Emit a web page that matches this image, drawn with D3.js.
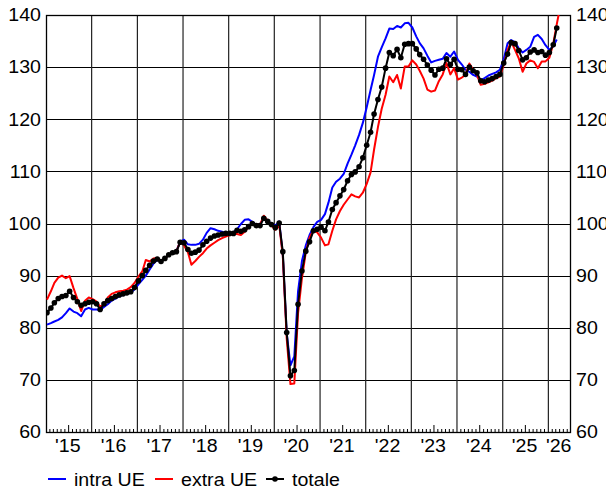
<!DOCTYPE html>
<html><head><meta charset="utf-8">
<script src="https://cdn.jsdelivr.net/npm/d3@7"></script>
<style>
body{margin:0;background:#fff}
svg{display:block}
text{font-family:"Liberation Sans",Arial,sans-serif;fill:#000}
</style>
</head><body>
<svg id="chart" width="606" height="494"></svg>
<script>
// monthly series, January 2015 onward
const intraUE = [
80.6,80.9,81.2,81.5,82.0,82.8,83.7,83.1,82.8,82.2,83.5,83.8,
83.5,83.5,83.4,84.0,84.5,85.2,85.6,86.0,86.3,86.5,86.7,87.4,
88.3,89.2,90.0,91.2,92.3,93.0,92.8,93.3,94.0,94.4,94.7,96.5,
96.9,96.0,95.9,95.9,96.1,96.9,98.2,99.1,98.9,98.6,98.4,98.2,
98.1,98.3,98.9,99.9,100.7,100.8,100.3,99.8,99.9,101.0,100.6,99.9,
99.6,100.4,94.0,79.0,72.8,74.5,87.0,92.8,95.8,97.8,99.3,100.3,
100.7,101.8,104.0,106.9,108.0,108.6,109.5,111.5,113.2,115.0,117.0,119.3,
122.3,125.6,128.5,132.0,133.8,135.5,137.4,137.3,137.9,137.6,138.4,138.5,
137.6,135.9,134.6,133.6,132.2,130.9,131.2,131.4,131.6,132.7,132.0,133.0,
131.4,130.5,129.5,129.1,128.5,128.2,127.5,127.9,128.4,128.7,129.0,129.5,
131.5,134.6,135.2,134.8,133.6,132.8,133.3,133.9,135.8,136.2,135.4,134.2,
133.3,134.0,135.3
];
const extraUE = [
85.4,87.0,88.6,89.6,90.0,89.5,89.9,87.6,85.5,83.2,85.2,85.8,
85.5,85.0,84.0,84.5,85.8,86.5,86.8,87.0,87.1,87.3,87.8,88.6,
89.8,90.8,93.0,92.7,93.3,93.4,92.8,93.3,94.0,94.3,94.6,96.6,
95.8,94.5,92.1,92.8,93.6,94.3,95.2,95.8,96.3,96.8,97.2,97.5,
97.8,98.0,98.0,97.8,98.4,99.4,99.9,99.8,99.8,101.5,100.5,99.6,
98.8,99.8,93.8,78.0,69.2,69.3,82.8,89.5,94.5,97.3,98.7,98.3,
97.3,95.8,96.0,98.6,100.8,102.4,103.6,104.6,105.6,105.2,105.0,105.9,
107.6,109.8,114.2,118.5,122.0,124.7,128.2,127.1,128.5,125.9,130.1,130.1,
131.3,130.5,129.3,127.8,125.7,125.3,125.5,127.3,128.6,130.8,128.6,129.8,
127.6,128.0,128.5,130.7,129.5,128.5,126.6,126.8,127.1,127.4,127.9,128.2,
130.4,133.3,134.9,133.3,131.7,129.1,130.7,131.3,131.0,129.8,131.1,131.1,
131.8,134.5,138.2,142.0
];
const totale = [
82.9,83.8,84.8,85.6,86.0,86.2,87.0,85.8,85.0,84.3,84.6,84.9,
85.0,84.6,83.5,84.6,85.2,85.6,86.0,86.3,86.5,86.7,86.9,87.7,
89.0,90.0,91.0,92.0,92.8,93.2,92.7,93.3,94.0,94.4,94.6,96.4,
96.3,95.0,94.3,94.5,94.9,95.9,96.6,97.2,97.6,97.8,98.0,98.1,
98.1,98.1,98.7,98.5,98.8,99.4,100.0,99.6,99.6,101.0,100.4,99.8,
99.2,100.1,94.6,79.1,70.8,71.8,84.5,90.9,94.7,96.5,98.6,98.9,
99.3,98.6,100.3,102.7,104.0,105.3,106.5,108.2,109.4,109.9,110.9,112.6,
115.0,117.5,121.0,123.8,126.2,129.8,132.8,132.2,133.4,131.8,134.4,134.5,
134.5,133.5,132.4,131.5,130.4,129.4,128.5,129.6,129.8,131.6,130.5,131.5,
129.6,129.5,128.6,130.0,129.3,128.9,127.4,127.2,127.5,127.8,128.2,128.6,
130.8,132.5,134.7,134.5,133.2,131.4,131.8,132.9,133.3,132.8,133.0,132.3,
132.8,134.3,137.5
];
const startYear = 2015;
const yTicks = [60,70,80,90,100,110,120,130,140];
const yearLabels = ["'15","'16","'17","'18","'19","'20","'21","'22","'23","'24","'25","'26"];
const seriesNames = ["intra UE","extra UE","totale"];

const svg = d3.select("#chart");
const L = 46, R = 571, T = 15, B = 432;
const x = d3.scaleTime().domain([new Date(2015,0,1), new Date(2026,6,1)]).range([L, R]);
const y = d3.scaleLinear().domain([60,140]).range([B, T]);
const dateOf = i => new Date(startYear, i, 9);
const SX = 1.12, FS = 17.5;

function label(xp, yp, s, anchor){
  return svg.append("text")
    .attr("transform", `translate(${xp},${yp}) scale(${SX},1)`)
    .attr("text-anchor", anchor)
    .style("font-size", FS + "px")
    .text(s);
}

// horizontal gridlines
svg.append("g").selectAll("line").data(yTicks.slice(1,-1)).join("line")
  .attr("x1", L).attr("x2", R)
  .attr("y1", d => Math.round(y(d)) + 0.5).attr("y2", d => Math.round(y(d)) + 0.5)
  .attr("stroke", "#000").attr("stroke-width", 1);

// vertical year gridlines
const years = d3.timeYear.range(new Date(2016,0,1), new Date(2026,6,1));
svg.append("g").selectAll("line").data(years).join("line")
  .attr("x1", d => x(d)).attr("x2", d => x(d))
  .attr("y1", T).attr("y2", B)
  .attr("stroke", "#222").attr("stroke-width", 1.2);

// month ticks at bottom
const months = d3.timeMonth.range(new Date(2015,1,1), new Date(2026,6,1)).filter(d => d.getMonth() !== 0);
svg.append("g").selectAll("line").data(months).join("line")
  .attr("x1", d => x(d)).attr("x2", d => x(d))
  .attr("y1", B).attr("y2", d => B - (d.getMonth() === 6 ? 7 : 3))
  .attr("stroke", "#000").attr("stroke-width", 1);

// frame
svg.append("rect").attr("x", L + 0.5).attr("y", T + 0.5)
  .attr("width", R - L - 1).attr("height", B - T)
  .attr("fill", "none").attr("stroke", "#000").attr("stroke-width", 1.3);

// y labels both sides
yTicks.forEach(v => {
  label(41, y(v) + 6.3, v, "end");
  label(576, y(v) + 6.3, v, "start");
});

// x labels
const domainEnd = x.domain()[1];
yearLabels.forEach((s, i) => {
  const a = new Date(startYear + i, 0, 1);
  let b = new Date(startYear + i + 1, 0, 1);
  if (b > domainEnd) b = domainEnd;
  label((x(a) + x(b)) / 2 - 1, 452, s, "middle");
});

// clip
svg.append("clipPath").attr("id", "plotclip").append("rect")
  .attr("x", L).attr("y", T).attr("width", R - L).attr("height", B - T);

const line = d3.line().x((d, i) => x(dateOf(i))).y(d => y(d));
const plot = svg.append("g").attr("clip-path", "url(#plotclip)");
plot.append("path").datum(intraUE).attr("d", line)
  .attr("fill", "none").attr("stroke", "#0000ff").attr("stroke-width", 2).attr("stroke-linejoin", "round");
plot.append("path").datum(extraUE).attr("d", line)
  .attr("fill", "none").attr("stroke", "#ff0000").attr("stroke-width", 2).attr("stroke-linejoin", "round");
plot.append("path").datum(totale).attr("d", line)
  .attr("fill", "none").attr("stroke", "#000").attr("stroke-width", 2).attr("stroke-linejoin", "round");
plot.append("g").selectAll("circle").data(totale).join("circle")
  .attr("cx", (d, i) => x(dateOf(i))).attr("cy", d => y(d)).attr("r", 2.8).attr("fill", "#000");

// legend
const LY = 479;
const legend = [
  {name: seriesNames[0], color: "#0000ff", x1: 48, tx: 74, dot: false},
  {name: seriesNames[1], color: "#ff0000", x1: 155, tx: 181, dot: false},
  {name: seriesNames[2], color: "#000", x1: 266, tx: 292, dot: true}
];
legend.forEach(l => {
  svg.append("line").attr("x1", l.x1).attr("x2", l.x1 + 18).attr("y1", LY).attr("y2", LY)
    .attr("stroke", l.color).attr("stroke-width", 2);
  if (l.dot) svg.append("circle").attr("cx", l.x1 + 9).attr("cy", LY).attr("r", 2.8).attr("fill", l.color);
  label(l.tx, LY + 6.5, l.name, "start");
});
</script>
</body></html>
